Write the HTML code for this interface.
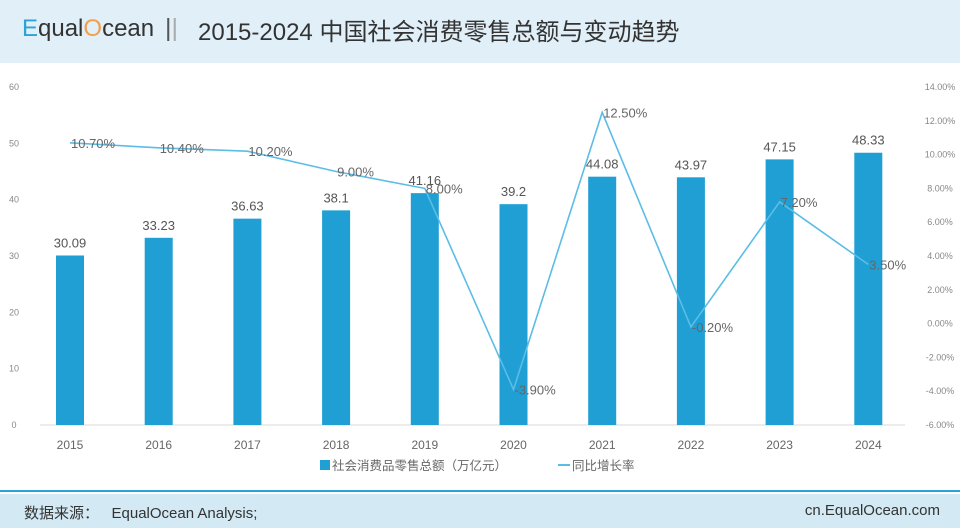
<!DOCTYPE html>
<html><head><meta charset="utf-8">
<style>
body{margin:0;width:960px;height:531px;background:#fff;overflow:hidden;font-family:"Liberation Sans","Noto Sans CJK SC",sans-serif;position:relative}
#hdr{position:absolute;left:0;top:0;width:960px;height:63px;background:#e1eff8}
#logo{position:absolute;left:22px;top:15px;font-size:24px;color:#333;letter-spacing:0}
#sep{position:absolute;left:165px;top:14px;font-size:25px;color:#555}
#title{position:absolute;left:198px;top:12px;font-size:24px;color:#333}
#fline{position:absolute;left:0;top:490px;width:960px;height:2px;background:#2ba3d6}
#ftr{position:absolute;left:0;top:494px;width:960px;height:34px;background:#d3e9f4}
#src{position:absolute;left:24px;top:502px;font-size:15px;color:#333}
#site{position:absolute;right:20px;top:502px;font-size:15px;color:#333}
svg{position:absolute;left:0;top:0}
</style></head><body>
<div id="hdr"></div>
<div id="logo"><span style="color:#2ba3d6">E</span>qual<span style="color:#f0a04b">O</span>cean</div>
<div id="sep">|<span style="color:#aaa">|</span></div>
<div id="title">2015-2024 中国社会消费零售总额与变动趋势</div>
<svg id="chart" width="960" height="531"></svg>
<div id="fline"></div>
<div id="ftr"></div>
<div id="src">数据来源：&nbsp;&nbsp; EqualOcean Analysis;</div>
<div id="site">cn.EqualOcean.com</div>
<script>
const years=["2015","2016","2017","2018","2019","2020","2021","2022","2023","2024"];
const sales=[30.09,33.23,36.63,38.1,41.16,39.2,44.08,43.97,47.15,48.33];
const growth=[10.7,10.4,10.2,9.0,8.0,-3.9,12.5,-0.2,7.2,3.5];
const leftTicks=[0,10,20,30,40,50,60];
const rightTicks=[-6,-4,-2,0,2,4,6,8,10,12,14];
const NS="http://www.w3.org/2000/svg";
const svg=document.getElementById('chart');
function yL(v){return 425-v*(338/60);}
function yR(v){return 425-(v+6)*(338/20);}
function xC(i){return 70+i*88.7;}
function mk(t,a,txt){const e=document.createElementNS(NS,t);for(const k in a)e.setAttribute(k,a[k]);if(txt!==undefined)e.textContent=txt;svg.appendChild(e);return e;}
let e=mk('line',{x1:40,x2:905,y1:425,y2:425,stroke:'#d9d9d9'});


leftTicks.forEach(v=>{const t=mk('text',{x:14,y:yL(v)+3,'font-size':9,fill:'#888','text-anchor':'middle'},v);

});
rightTicks.forEach(v=>{const t=mk('text',{x:940,y:yR(v)+3,'font-size':9,fill:'#888','text-anchor':'middle'},v.toFixed(2)+'%');

});
years.forEach((y,i)=>{
const b=mk('rect',{x:xC(i)-14,y:yL(sales[i]),width:28,height:425-yL(sales[i]),fill:'#1f9fd4'});


const l=mk('text',{x:xC(i),y:yL(sales[i])-8,'font-size':13,fill:'#555','text-anchor':'middle'},String(sales[i]));


const xl=mk('text',{x:xC(i),y:449,'font-size':12,fill:'#666','text-anchor':'middle'},y);


});
const pl=mk('polyline',{points:growth.map((g,i)=>xC(i)+','+yR(g)).join(' '),fill:'none',stroke:'#5bbde6','stroke-width':1.6});


growth.forEach((g,i)=>{const t=mk('text',{x:xC(i)+1,y:yR(g)+5,'font-size':13,fill:'#666'},g.toFixed(2)+'%');

});
const lg1=mk('rect',{x:320,y:460,width:10,height:10,fill:'#1f9fd4'});


const lt1=mk('text',{x:332,y:470,'font-size':12.5,fill:'#666'},'社会消费品零售总额（万亿元）');


const lg2=mk('line',{x1:558,x2:570,y1:465,y2:465,stroke:'#5bbde6','stroke-width':2});


const lt2=mk('text',{x:572,y:470,'font-size':12.5,fill:'#666'},'同比增长率');


</script>
</body></html>
